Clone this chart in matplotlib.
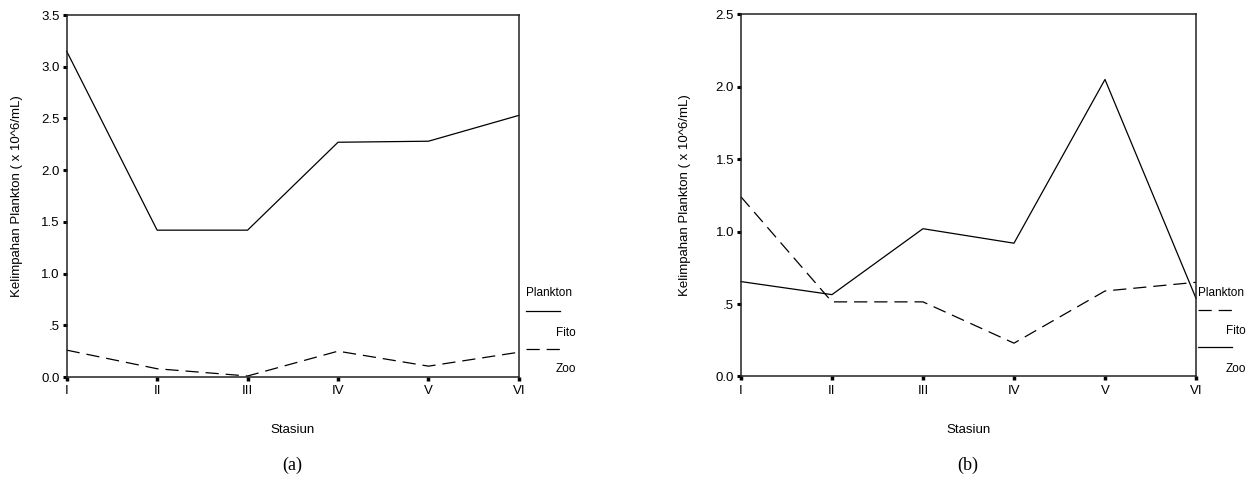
import matplotlib
matplotlib.use("Agg")
import matplotlib.pyplot as plt
from matplotlib.lines import Line2D

plt.rcParams['font.family'] = 'Liberation Sans'
plt.rcParams['lines.scale_dashes'] = False

stasiun = ["I", "II", "III", "IV", "V", "VI"]

# panel (a)
fito_a = [3.15, 1.42, 1.42, 2.27, 2.28, 2.53]
zoo_a = [0.26, 0.08, 0.01, 0.25, 0.105, 0.24]
yticks_a = [0.0, 0.5, 1.0, 1.5, 2.0, 2.5, 3.0, 3.5]
ylabels_a = ["0.0", ".5", "1.0", "1.5", "2.0", "2.5", "3.0", "3.5"]

# panel (b)
fito_b = [1.24, 0.515, 0.515, 0.23, 0.59, 0.65]
zoo_b = [0.655, 0.565, 1.02, 0.92, 2.05, 0.54]
yticks_b = [0.0, 0.5, 1.0, 1.5, 2.0, 2.5]
ylabels_b = ["0.0", ".5", "1.0", "1.5", "2.0", "2.5"]

DASH = (0, (9.5, 5))
fs = 9.5
lfs = 8.5

fig = plt.figure(figsize=(12.58, 4.82), dpi=100)
ax1 = fig.add_axes([0.0530, 0.2178, 0.3595, 0.751])
ax2 = fig.add_axes([0.5890, 0.2189, 0.3617, 0.7515])


def setup(ax, yticks, ylabels, ymax, ylab_x):
    ax.set_xlim(0, len(stasiun) - 1)
    ax.set_ylim(0, ymax)
    ax.set_xticks(list(range(len(stasiun))))
    ax.set_xticklabels(stasiun, fontsize=fs)
    ax.set_yticks(yticks)
    ax.set_yticklabels(ylabels, fontsize=fs)
    ax.tick_params(axis='y', direction='out', length=3, width=2.2, pad=2)
    ax.tick_params(axis='x', direction='out', length=3, width=2.5, pad=3)
    for s in ax.spines.values():
        s.set_linewidth(1.1)
        s.set_color('#222222')
    ax.set_xlabel("Stasiun", fontsize=fs)
    ax.xaxis.set_label_coords(0.5, -0.13)
    ax.set_ylabel("Kelimpahan Plankton ( x 10^6/mL)", fontsize=fs)
    ax.yaxis.set_label_coords(ylab_x, 0.5)


x = list(range(len(stasiun)))

ax1.plot(x, fito_a, color='black', lw=0.9, clip_on=False)
ax1.plot(x, zoo_a, color='black', lw=0.9, linestyle=DASH, clip_on=False)
setup(ax1, yticks_a, ylabels_a, 3.5, -0.097)

ax2.plot(x, fito_b, color='black', lw=0.9, linestyle=DASH, clip_on=False)
ax2.plot(x, zoo_b, color='black', lw=0.9, clip_on=False)
setup(ax2, yticks_b, ylabels_b, 2.5, -0.11)

W, H = 1258, 482


def legend(x0, text_x, fito_style, zoo_style, fito_y, y1, y2):
    fig.text(x0 / W, 1 - 293 / H, "Plankton", fontsize=lfs, va='center')
    fig.add_artist(Line2D([x0 / W, (x0 + 34) / W], [1 - y1 / H] * 2,
                          color='black', lw=0.9, linestyle=fito_style))
    fig.text(text_x / W, 1 - fito_y / H, "Fito", fontsize=lfs, va='center')
    fig.add_artist(Line2D([x0 / W, (x0 + 34) / W], [1 - y2 / H] * 2,
                          color='black', lw=0.9, linestyle=zoo_style))
    fig.text(text_x / W, 1 - 369 / H, "Zoo", fontsize=lfs, va='center')


legend(526, 556, '-', DASH, 333, 311, 349)
legend(1198, 1226, DASH, '-', 331, 310, 347)

fig.text(292 / W, 1 - 465 / H, "(a)", fontsize=13, family='Liberation Serif', ha='center', va='center')
fig.text(968 / W, 1 - 465 / H, "(b)", fontsize=13, family='Liberation Serif', ha='center', va='center')

plt.savefig("out.png", dpi=100)
